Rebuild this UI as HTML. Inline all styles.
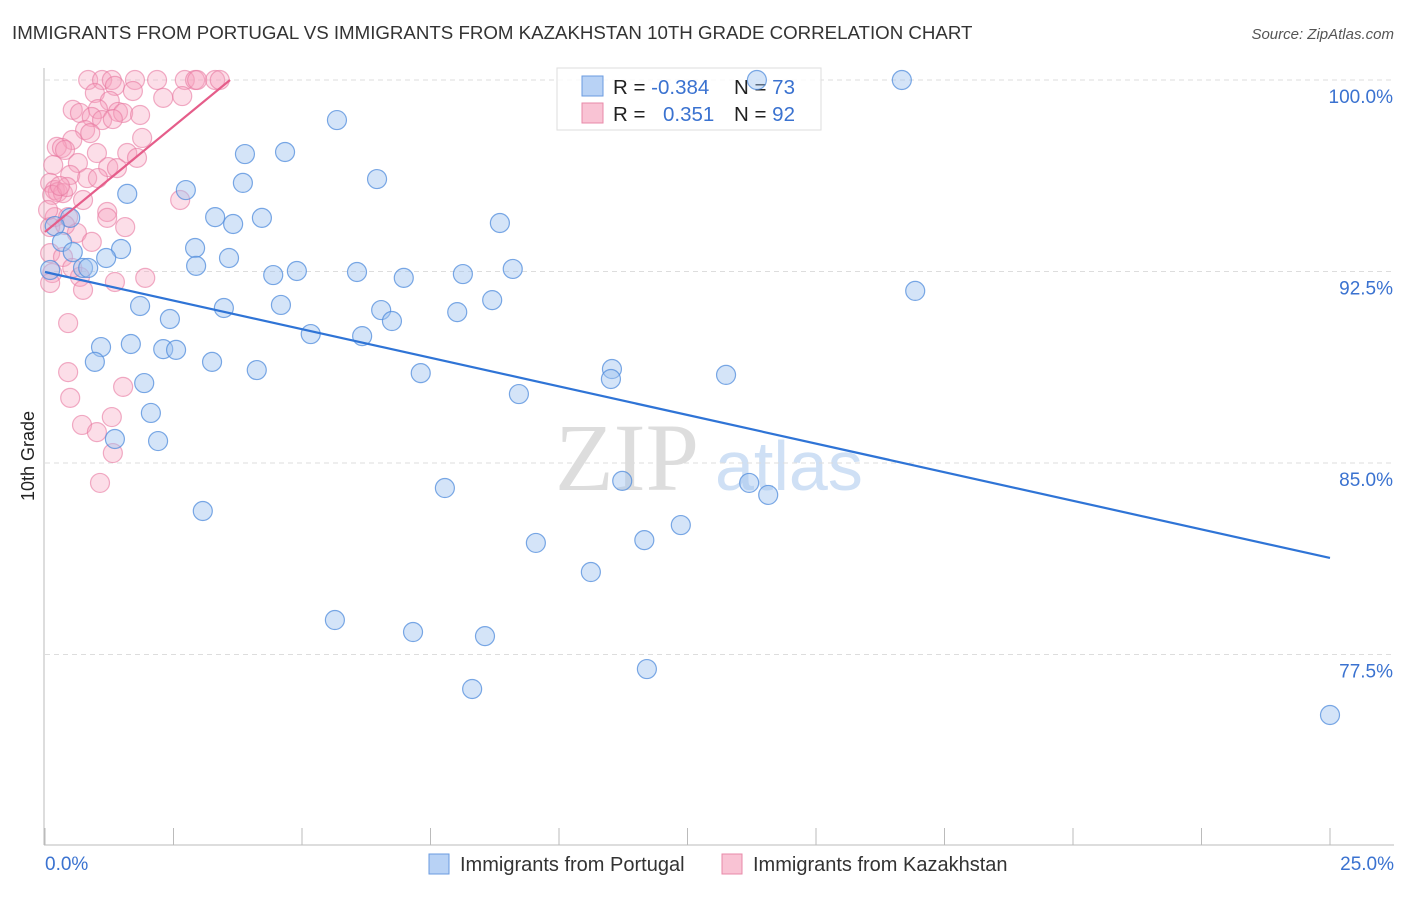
<!DOCTYPE html>
<html><head><meta charset="utf-8"><style>
body{margin:0;background:#fff;font-family:"Liberation Sans",sans-serif}
</style></head><body>
<svg id="c" width="1406" height="892" xmlns="http://www.w3.org/2000/svg">
<text x="12" y="39" font-size="18.7" fill="#333">IMMIGRANTS FROM PORTUGAL VS IMMIGRANTS FROM KAZAKHSTAN 10TH GRADE CORRELATION CHART</text>
<text x="1394" y="39" font-size="15" font-style="italic" fill="#555" text-anchor="end">Source: ZipAtlas.com</text>
<text transform="translate(34,456) rotate(-90)" font-size="18" fill="#222" text-anchor="middle">10th Grade</text>
<g><text x="555" y="490" font-family="Liberation Serif,serif" font-size="96" fill="#ddd">ZIP</text><text x="715" y="490" font-size="70" fill="#cfe0f5">atlas</text></g>
<g id="grid"></g><g id="axes"></g>
<g>
<rect x="557" y="68" width="264" height="62" fill="#fff" fill-opacity="0.85" stroke="#ddd"/>
<rect x="582" y="76" width="21" height="20" fill="#b8d2f5" stroke="#6a9be0"/>
<rect x="582" y="103" width="21" height="20" fill="#f9c3d4" stroke="#e88aa8"/>
<text x="613" y="94" font-size="20.5" fill="#222">R = <tspan fill="#3a72d0">-0.384</tspan></text>
<text x="734" y="94" font-size="20.5" fill="#222">N = <tspan fill="#3a72d0">73</tspan></text>
<text x="613" y="121" font-size="20.5" fill="#222">R = <tspan fill="#3a72d0" x="663">0.351</tspan></text>
<text x="734" y="121" font-size="20.5" fill="#222">N = <tspan fill="#3a72d0">92</tspan></text>
</g>
<g id="pts"></g><g id="lines"></g>
<g>
<rect x="429" y="854" width="20" height="20" fill="#b8d2f5" stroke="#6a9be0"/>
<text x="460" y="871" font-size="20" fill="#333">Immigrants from Portugal</text>
<rect x="722" y="854" width="20" height="20" fill="#f9c3d4" stroke="#e88aa8"/>
<text x="753" y="871" font-size="20" fill="#333">Immigrants from Kazakhstan</text>
</g>
<text x="45" y="870" font-size="19" fill="#3a72d0">0.0%</text>
<text x="1394" y="870" font-size="19" fill="#3a72d0" text-anchor="end">25.0%</text>
</svg>
<script>
const yTicks=[100,92.5,85,77.5];
const yTickLabels=["100.0%","92.5%","85.0%","77.5%"];
const blueX=[13.85,16.67,5.68,3.89,4.67,6.46,3.85,1.60,2.74,3.31,3.66,4.22,8.85,0.49,0.19,0.33,0.54,1.48,2.92,1.19,3.58,0.74,0.84,0.10,2.94,4.44,4.90,6.07,6.98,8.13,9.10,16.93,1.85,3.48,4.59,2.43,6.54,6.75,8.02,8.70,5.17,6.17,1.09,1.67,2.30,2.55,0.97,3.25,4.12,1.93,7.31,11.03,11.01,13.25,9.22,2.06,2.20,1.36,7.78,11.23,13.70,14.07,3.07,12.37,11.66,9.55,10.62,5.64,7.16,8.56,11.71,8.31,25.0];
const blueY=[100.0,100.0,98.43,97.10,97.18,96.12,95.97,95.54,95.69,94.63,94.36,94.60,94.40,94.60,94.28,93.66,93.26,93.38,93.42,93.03,93.03,92.64,92.64,92.56,92.72,92.36,92.52,92.48,92.25,92.40,92.60,91.74,91.15,91.07,91.19,90.64,90.99,90.56,90.91,91.38,90.05,89.97,89.54,89.66,89.46,89.43,88.96,88.96,88.64,88.13,88.52,88.68,88.29,88.45,87.70,86.96,85.86,85.94,84.02,84.30,84.22,83.75,83.12,82.57,81.98,81.87,80.73,78.85,78.38,78.22,76.93,76.15,75.13];
const pinkX=[0.84,1.11,1.30,1.75,2.18,2.72,2.92,2.96,3.31,3.40,1.36,1.71,0.97,2.30,2.67,1.26,0.54,0.68,1.03,1.42,1.52,1.85,0.91,1.11,1.32,0.78,0.88,0.53,1.89,0.23,0.33,0.39,0.16,0.64,1.01,1.60,1.79,1.23,1.40,0.49,0.82,1.03,0.10,0.19,0.25,0.35,0.14,0.43,2.63,0.74,0.19,0.45,1.21,1.21,1.56,0.10,0.62,0.91,0.10,0.35,0.14,0.10,0.68,0.74,1.36,1.95,0.45,0.45,0.49,0.72,1.01,1.30,1.32,1.52,1.07,0.29,0.06,0.53,0.39];
const pinkY=[100,100,100,100,100,100,100,100,100,100,99.77,99.57,99.49,99.30,99.37,99.18,98.83,98.71,98.86,98.75,98.71,98.63,98.55,98.43,98.47,98.04,97.92,97.65,97.73,97.38,97.34,97.26,96.67,96.75,97.14,97.14,96.95,96.59,96.55,96.28,96.16,96.16,95.97,95.69,95.61,95.57,95.50,95.81,95.30,95.30,94.63,94.63,94.83,94.60,94.24,94.24,94.01,93.66,93.22,93.07,92.44,92.05,92.29,91.78,92.09,92.25,90.48,88.56,87.55,86.49,86.21,86.80,85.39,87.98,84.22,95.85,94.91,92.64,94.32];
const blueTrend=[0,92.48,25,81.28];
const pinkTrend=[0,94.05,3.6,100];
const NS="http://www.w3.org/2000/svg";
const X=v=>45+v/25*1285, Y=v=>80+(100-v)/7.5*191.5;
function mk(t,a,p){const e=document.createElementNS(NS,t);for(const k in a)e.setAttribute(k,a[k]);document.getElementById(p).appendChild(e);return e;}
yTicks.forEach((t,i)=>{
 const l=mk('line',{x1:45,x2:1394,y1:Y(t),y2:Y(t),stroke:'#ddd','stroke-dasharray':'5,4'},'grid');
 
 
 const tx=mk('text',{x:1393,y:Y(t)+23,'font-size':19,fill:'#3a72d0','text-anchor':'end'},'grid');
 tx.textContent=yTickLabels[i];
 
 
});
const ax=mk('line',{x1:44,x2:44,y1:68,y2:845,stroke:'#bbb'},'axes');


const bx=mk('line',{x1:44,x2:1394,y1:845,y2:845,stroke:'#bbb'},'axes');


for(let k=0;k<=10;k++){const t=mk('line',{x1:X(k*2.5),x2:X(k*2.5),y1:828,y2:845,stroke:'#bbb'},'axes');
 
 }
pinkX.forEach((v,i)=>{const c=mk('circle',{cx:X(v),cy:Y(pinkY[i]),r:9.5,fill:'rgba(245,160,190,0.35)',stroke:'rgba(232,120,160,0.6)','stroke-width':1.2},'pts');
 
 });
blueX.forEach((v,i)=>{const c=mk('circle',{cx:X(v),cy:Y(blueY[i]),r:9.5,fill:'rgba(160,195,240,0.45)',stroke:'rgba(80,140,220,0.75)','stroke-width':1.2},'pts');
 
 });
const bl=mk('line',{x1:X(blueTrend[0]),y1:Y(blueTrend[1]),x2:X(blueTrend[2]),y2:Y(blueTrend[3]),stroke:'#2f74d6','stroke-width':2.2},'lines');


const pl=mk('line',{x1:X(pinkTrend[0]),y1:Y(pinkTrend[1]),x2:X(pinkTrend[2]),y2:Y(pinkTrend[3]),stroke:'#e55d8a','stroke-width':2.2},'lines');


</script>
</body></html>
